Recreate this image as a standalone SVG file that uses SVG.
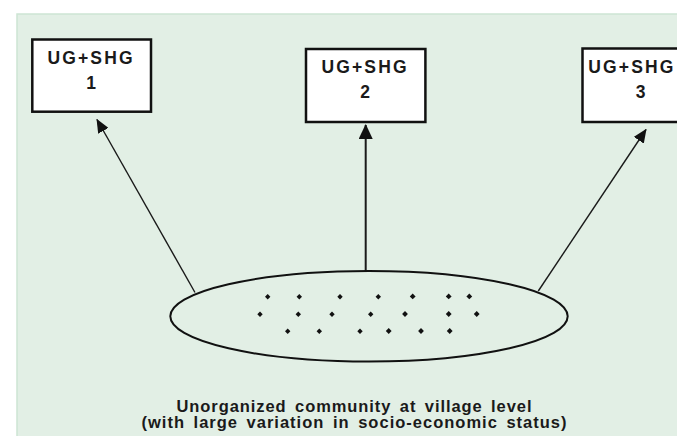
<svg xmlns="http://www.w3.org/2000/svg" width="677" height="436" viewBox="0 0 677 436">
<style>
.box{fill:#ffffff;stroke:#111;stroke-width:2.5}
.lbl{font-family:"Liberation Sans",Arial,sans-serif;font-weight:bold;font-size:17.5px;fill:#1a1a1a}
.cap{font-family:"Liberation Sans",Arial,sans-serif;font-weight:bold;font-size:16.5px;fill:#1a1a1a;word-spacing:3px}
.conn{stroke:#1a1a1a;fill:none}
.dot{fill:#111}
</style>
<defs>
<marker id="ah" viewBox="0 0 14 12" refX="13" refY="6" markerWidth="14" markerHeight="12" markerUnits="userSpaceOnUse" orient="auto">
<path d="M0,0 L14,6 L0,12 Z" fill="#111"/>
</marker>
<marker id="ah2" viewBox="0 0 15 14" refX="14" refY="7" markerWidth="15" markerHeight="14" markerUnits="userSpaceOnUse" orient="auto">
<path d="M0,0 L15,7 L0,14 Z" fill="#111"/>
</marker>
</defs>
<rect x="0" y="0" width="677" height="436" fill="#ffffff"/>
<rect x="17" y="14" width="662" height="424" fill="#e2efe5" stroke="#cde5d4" stroke-width="1.5"/>
<g id="connectors">
<line class="conn" x1="195" y1="292.5" x2="97" y2="119.5" stroke-width="1.4" marker-end="url(#ah)"/>
<line class="conn" x1="365.7" y1="271" x2="365.7" y2="125" stroke-width="2" marker-end="url(#ah2)"/>
<line class="conn" x1="538.3" y1="291" x2="646" y2="129.5" stroke-width="1.4" marker-end="url(#ah)"/>
</g>
<g id="node1">
<rect class="box" x="32.3" y="39.5" width="118.7" height="72.2"/>
<text class="lbl" x="90" y="63.5" text-anchor="middle" textLength="85" lengthAdjust="spacing">UG+SHG</text>
<text class="lbl" x="91" y="88.5" text-anchor="middle">1</text>
</g>
<g id="node2">
<rect class="box" x="306" y="49" width="119.4" height="73"/>
<text class="lbl" x="364" y="73.2" text-anchor="middle" textLength="85" lengthAdjust="spacing">UG+SHG</text>
<text class="lbl" x="365" y="98.2" text-anchor="middle">2</text>
</g>
<g id="node3">
<rect class="box" x="582.5" y="48.5" width="120" height="73.5"/>
<text class="lbl" x="588.3" y="73.2" textLength="85" lengthAdjust="spacing">UG+SHG</text>
<text class="lbl" x="640.5" y="98.2" text-anchor="middle">3</text>
</g>
<g id="community">
<ellipse cx="369" cy="316.3" rx="198.7" ry="45.3" fill="none" stroke="#111" stroke-width="2"/>
<g class="dot">
<path d="M267.7,294l2.7,2.7l-2.7,2.7l-2.7,-2.7z"/>
<path d="M299.3,294l2.7,2.7l-2.7,2.7l-2.7,-2.7z"/>
<path d="M340,294l2.7,2.7l-2.7,2.7l-2.7,-2.7z"/>
<path d="M378.3,294l2.7,2.7l-2.7,2.7l-2.7,-2.7z"/>
<path d="M412.7,293.5l2.9,2.9l-2.9,2.9l-2.9,-2.9z"/>
<path d="M448.7,293.5l2.9,2.9l-2.9,2.9l-2.9,-2.9z"/>
<path d="M469.3,293.5l2.9,2.9l-2.9,2.9l-2.9,-2.9z"/>
<path d="M260,311.6l2.7,2.7l-2.7,2.7l-2.7,-2.7z"/>
<path d="M298.3,311.6l2.7,2.7l-2.7,2.7l-2.7,-2.7z"/>
<path d="M332,311.6l2.7,2.7l-2.7,2.7l-2.7,-2.7z"/>
<path d="M370.7,311.6l2.7,2.7l-2.7,2.7l-2.7,-2.7z"/>
<path d="M405,311.1l2.9,2.9l-2.9,2.9l-2.9,-2.9z"/>
<path d="M448.7,311.1l2.9,2.9l-2.9,2.9l-2.9,-2.9z"/>
<path d="M476.7,311.1l2.9,2.9l-2.9,2.9l-2.9,-2.9z"/>
<path d="M287.7,328.6l2.7,2.7l-2.7,2.7l-2.7,-2.7z"/>
<path d="M319.3,328.6l2.7,2.7l-2.7,2.7l-2.7,-2.7z"/>
<path d="M360,328.6l2.7,2.7l-2.7,2.7l-2.7,-2.7z"/>
<path d="M388.7,328.1l2.9,2.9l-2.9,2.9l-2.9,-2.9z"/>
<path d="M421,328.1l2.9,2.9l-2.9,2.9l-2.9,-2.9z"/>
<path d="M449.7,328.1l2.9,2.9l-2.9,2.9l-2.9,-2.9z"/>
</g>
<text class="cap" x="354" y="412" text-anchor="middle" textLength="355" lengthAdjust="spacing">Unorganized community at village level</text>
<text class="cap" x="354" y="428" text-anchor="middle" textLength="425" lengthAdjust="spacing">(with large variation in socio-economic status)</text>
</g>
</svg>
